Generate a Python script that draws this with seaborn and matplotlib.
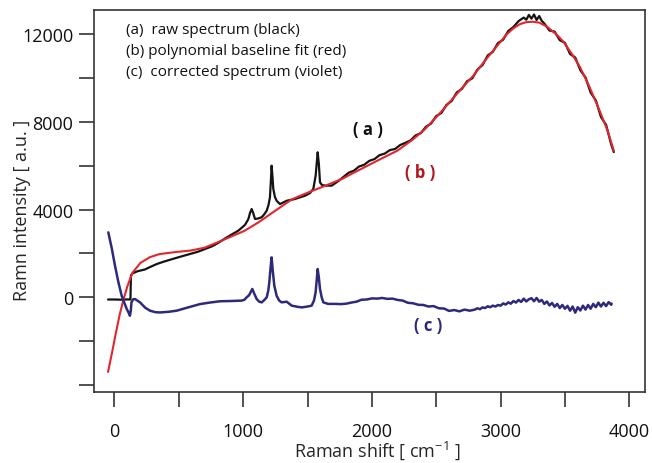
import matplotlib
matplotlib.use("Agg")
import matplotlib.pyplot as plt
from matplotlib.ticker import FixedLocator
import seaborn as sns

# Raman shift (cm-1) and intensities
raw_x = [-50, 0, 60, 100, 124, 128, 140, 180, 237, 280, 330, 380, 431, 500, 587, 650,
         703, 760, 806, 859, 910, 962, 1014, 1040, 1053, 1066, 1078, 1092, 1115, 1144,
         1162, 1183, 1197, 1208, 1216, 1221, 1228, 1234, 1247, 1260, 1286, 1338, 1402,
         1480, 1519, 1545, 1563, 1579, 1588, 1597, 1612, 1636, 1688, 1740,
         1780, 1820, 1860, 1900, 1940, 1980, 2020, 2060, 2100, 2140, 2180, 2220, 2260,
         2300, 2340, 2380, 2420, 2460, 2500, 2540, 2580, 2620, 2660, 2700, 2740, 2780,
         2820, 2860, 2900, 2940, 2980, 3020, 3060, 3100, 3140, 3180, 3200, 3220, 3240,
         3260, 3280, 3300, 3320, 3340, 3380, 3420, 3460, 3500, 3540, 3580, 3620, 3660,
         3700, 3740, 3780, 3820, 3860, 3880]
raw_y = [-100, -100, -110, -95, -100, 1000, 1090, 1190, 1270, 1390, 1520, 1620, 1710, 1830,
         1975, 2080, 2200, 2330, 2480, 2680, 2860, 3036, 3300, 3560, 3840, 4025, 3840,
         3570, 3590, 3650, 3770, 3950, 4210, 4560, 5390, 6000, 5480, 4940, 4570, 4400,
         4250, 4400, 4480, 4630, 4750, 4940, 5540, 6610, 6080, 5240, 5120, 5090, 5090, 5300,
         5490, 5680, 5770, 5960, 6040, 6220, 6300, 6480, 6550, 6710, 6760, 6940, 7040,
         7150, 7380, 7480, 7770, 7920, 8260, 8400, 8770, 8950, 9340, 9500, 9850, 9980,
         10380, 10590, 11020, 11190, 11590, 11740, 12140, 12320, 12590, 12750, 12650, 12870,
         12700, 12890, 12640, 12820, 12600, 12480, 12160, 12110, 11720, 11600, 11090, 10930,
         10350, 10020, 9330, 8980, 8220, 7860, 6960, 6620]

base_x = [-50, -20, 10, 40, 70, 100, 140, 200, 275, 350, 470, 590, 700, 860, 1010, 1120,
          1250, 1380, 1510, 1640, 1770, 1850, 1930, 2060, 2200, 2320, 2410, 2510, 2590,
          2690, 2790, 2840, 2920, 3000, 3050, 3100, 3150, 3200, 3250, 3300, 3360, 3440,
          3490, 3560, 3620, 3690, 3770, 3830, 3880]
base_y = [-3400, -2550, -1650, -800, -100, 500, 1120, 1560, 1830, 1970, 2060, 2130, 2260,
          2650, 3030, 3420, 3950, 4470, 4790, 5090, 5400, 5650, 5890, 6280, 6690, 7200,
          7650, 8270, 8800, 9470, 10110, 10500, 11080, 11650, 12000, 12260, 12450, 12540,
          12560, 12520, 12340, 11950, 11640, 11040, 10460, 9600, 8500, 7620, 6680]

corr_x = [-48, -20, 4, 30, 56, 80, 95, 110, 120, 127, 132, 145, 160, 198, 240, 276, 320,
          354, 420, 483, 560, 664, 740, 820, 900, 988, 1010, 1027, 1045, 1058, 1071, 1085,
          1105, 1125, 1144, 1165, 1183, 1195, 1203, 1212, 1221, 1230, 1242, 1260, 1280,
          1299, 1338, 1377, 1420, 1455, 1500, 1532, 1550, 1563, 1572, 1579, 1588, 1597,
          1610, 1623, 1660, 1713, 1760,
          1800, 1840, 1880, 1920, 1960, 2000, 2040, 2080, 2120, 2160, 2200, 2240, 2280,
          2320, 2360, 2400, 2440, 2480, 2520, 2560, 2600, 2640, 2680, 2720, 2760,
          2800, 2820, 2840, 2860, 2880, 2900, 2920, 2940, 2960, 2980, 3000, 3020, 3040,
          3060, 3080, 3100, 3120, 3140, 3160, 3180, 3200, 3220, 3240, 3260, 3280, 3300,
          3320, 3340, 3360, 3380, 3400, 3420, 3440, 3460, 3480, 3500, 3520, 3540, 3560,
          3580, 3600, 3620, 3640, 3660, 3680, 3700, 3720, 3740, 3760, 3780, 3800, 3820,
          3840, 3860, 3863]
corr_y = [2960, 2200, 1440, 700, 70, -300, -530, -700, -840, -600, -230, -90, -80, -230,
          -480, -610, -680, -690, -660, -610, -480, -310, -240, -180, -170, -150, -110, 0,
          90, 230, 380, 180, -80, -200, -230, -120, 0, 300, 680, 1300, 1820, 1200, 530, 70,
          -150, -230, -200, -380, -430, -460, -420, -380, -150, 230, 800, 1290, 900, 380,
          0, -230, -300, -300, -310,
          -290, -240, -200, -110, -100, -50, -60, -30, -70, -60, -120, -150, -250,
          -270, -340, -350, -420, -400, -500, -510, -620, -580, -640, -560, -610,
          -560, -500, -540, -460, -490, -410, -450, -380, -420, -350, -380, -280, -330,
          -230, -290, -170, -240, -120, -210, -60, -190, -90, -40, -180, -30, -200,
          -120, -300, -190, -370, -260, -430, -300, -490, -350, -520, -390, -610, -420,
          -700, -450, -600, -380, -560, -350, -520, -300, -450, -240, -420, -250, -400,
          -220, -340, -290]

y_labeled = [0, 4000, 8000, 12000]
y_minor = [-4000, -2000, 2000, 6000, 10000]
x_labeled = [0, 1000, 2000, 3000, 4000]
x_minor = [500, 1500, 2500, 3500]

legend_lines = ["(a)  raw spectrum (black)",
                "(b) polynomial baseline fit (red)",
                "(c)  corrected spectrum (violet)"]

sns.set_style("ticks")
plt.rcParams['font.family'] = ['Open Sans', 'DejaVu Sans']
plt.rcParams['mathtext.fontset'] = 'custom'
plt.rcParams['mathtext.rm'] = 'Open Sans'

fig = plt.figure(figsize=(6.52, 4.64), dpi=100)
ax = fig.add_axes([0.1442, 0.1530, 0.845, 0.8233])

sns.lineplot(x=raw_x, y=raw_y, ax=ax, color='#141414', lw=1.6, estimator=None)
sns.lineplot(x=base_x, y=base_y, ax=ax, color='#e3262b', lw=1.5, estimator=None)
sns.lineplot(x=corr_x, y=corr_y, ax=ax, color='#2d2a7c', lw=1.8, estimator=None)

ax.set_xlim(-159, 4122)
ax.set_ylim(-4316, 13095)

ax.xaxis.set_major_locator(FixedLocator(x_labeled))
ax.xaxis.set_minor_locator(FixedLocator(x_minor))
ax.yaxis.set_major_locator(FixedLocator(y_labeled))
ax.yaxis.set_minor_locator(FixedLocator(y_minor))
ax.tick_params(which='both', direction='out', length=10.8, width=1.2, color='#333333')
ax.tick_params(axis='both', which='major', labelsize=13, labelcolor='#111111')
ax.tick_params(axis='y', which='major', pad=4)
ax.tick_params(axis='x', which='major', pad=11)
for s in ax.spines.values():
    s.set_color('#333333')
    s.set_linewidth(1.2)

ax.set_xlabel('Raman shift [ cm$^{-1}$ ]', fontsize=13)
ax.set_ylabel('Ramn intensity [ a.u. ]', fontsize=13)
ax.xaxis.set_label_coords(0.515, -0.122)
ax.yaxis.set_label_coords(-0.114, 0.479)

for i, t in enumerate(legend_lines):
    ax.text(0.058, 0.948 - i * 0.054, t, transform=ax.transAxes, fontsize=11,
            va='center', ha='left', color='#111111')

ax.text(1970, 7670, '( a )', fontsize=12, fontweight='bold', color='#111111',
        ha='center', va='center')
ax.text(2374, 5711, '( b )', fontsize=12, fontweight='bold', color='#b3161b',
        ha='center', va='center')
ax.text(2436, -1262, '( c )', fontsize=12, fontweight='bold', color='#2d2a7c',
        ha='center', va='center')

plt.savefig('out.png', dpi=100)
